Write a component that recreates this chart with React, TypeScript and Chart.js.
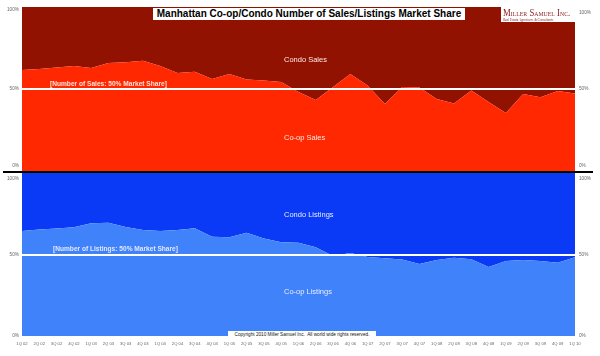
import React, { useEffect, useRef } from "react";
import { Chart, registerables } from "chart.js";

Chart.register(...registerables);

const FONT = '"Liberation Sans", Arial, sans-serif';

const quarters = [
  "1Q 02", "2Q 02", "3Q 02", "4Q 02",
  "1Q 03", "2Q 03", "3Q 03", "4Q 03",
  "1Q 04", "2Q 04", "3Q 04", "4Q 04",
  "1Q 05", "2Q 05", "3Q 05", "4Q 05",
  "1Q 06", "2Q 06", "3Q 06", "4Q 06",
  "1Q 07", "2Q 07", "3Q 07", "4Q 07",
  "1Q 08", "2Q 08", "3Q 08", "4Q 08",
  "1Q 09", "2Q 09", "3Q 09", "4Q 09",
  "1Q 10",
];

// Share of number of sales (%)
const coopSales = [
  61.6, 62.2, 63.1, 64.0, 62.8, 65.9, 66.3, 67.3, 64.0, 59.8, 60.5,
  56.1, 59.1, 55.8, 55.2, 54.3, 48.2, 43.3, 51.2, 59.1, 52.1, 40.9,
  51.2, 50.9, 43.9, 41.2, 49.1, 42.1, 35.4, 47.0, 44.9, 48.8, 47.3,
];
const condoSales = [
  38.4, 37.8, 36.9, 36.0, 37.2, 34.1, 33.7, 32.7, 36.0, 40.2, 39.5,
  43.9, 40.9, 44.2, 44.8, 45.7, 51.8, 56.7, 48.8, 40.9, 47.9, 59.1,
  48.8, 49.1, 56.1, 58.8, 50.9, 57.9, 64.6, 53.0, 55.1, 51.2, 52.7,
];

// Share of number of listings (%)
const coopListings = [
  64.4, 65.3, 66.0, 66.7, 69.1, 69.5, 66.9, 65.0, 64.4, 65.0, 66.1,
  60.9, 60.6, 63.4, 59.8, 57.5, 57.2, 54.4, 49.1, 50.9, 48.5, 47.7,
  47.0, 44.2, 46.6, 48.0, 47.1, 42.3, 46.0, 46.6, 46.0, 44.9, 48.3,
];
const condoListings = [
  35.6, 34.7, 34.0, 33.3, 30.9, 30.5, 33.1, 35.0, 35.6, 35.0, 33.9,
  39.1, 39.4, 36.6, 40.2, 42.5, 42.8, 45.6, 50.9, 49.1, 51.5, 52.3,
  53.0, 55.8, 53.4, 52.0, 52.9, 57.7, 54.0, 53.4, 54.0, 55.1, 51.7,
];

const yTicks = [0, 50, 100];

const textPlugin = {
  id: "areaText",
  afterDatasetsDraw(chart: any, _args: any, opts: any) {
    const { ctx, chartArea: a } = chart;
    ctx.save();
    for (const it of opts.items || []) {
      ctx.font = it.font;
      ctx.fillStyle = it.color;
      ctx.textAlign = "left";
      ctx.textBaseline = "middle";
      ctx.fillText(it.text, a.left + it.dx, a.top + it.dy);
    }
    ctx.restore();
  },
};

// Labels of the top / bottom ticks are nudged inward (as in the original) by blank lines.
function tickLabel(v: number, topBlank: number, bottomBlank: number) {
  const s = v + "%";
  if (v === 100 && topBlank > 0) return [...Array(topBlank).fill(""), s];
  if (v === 0 && bottomBlank > 0) return [s, ...Array(bottomBlank).fill("")];
  return s;
}

function pctAxis(position: string, width: number, pad: number, showGrid: boolean, topBlank: number, bottomBlank: number) {
  return {
    position,
    min: 0,
    max: 100,
    stacked: true,
    afterFit: (s: any) => {
      s.width = width;
      s.paddingTop = 0;
      s.paddingBottom = 0;
    },
    afterBuildTicks: (s: any) => {
      s.ticks = yTicks.map((v) => ({ value: v }));
    },
    ticks: {
      callback: (v: any) => tickLabel(v, topBlank, bottomBlank),
      font: { size: 4.7, family: FONT },
      color: "#666",
      padding: pad,
    },
    grid: showGrid
      ? {
          z: 1,
          color: (c: any) => (c.tick && c.tick.value === 50 ? "#ffffff" : "rgba(0,0,0,0)"),
          lineWidth: (c: any) => (c.tick && c.tick.value === 50 ? 2 : 1),
          drawTicks: false,
        }
      : { display: false, drawTicks: false },
    border: { display: false },
  };
}

function areaDataset(label: string, data: number[], color: string, fill: string) {
  return {
    label,
    data,
    backgroundColor: color,
    borderColor: color,
    borderWidth: 0,
    pointRadius: 0,
    pointHoverRadius: 0,
    tension: 0,
    fill,
  };
}

export default function App() {
  const topRef = useRef<HTMLCanvasElement>(null);
  const botRef = useRef<HTMLCanvasElement>(null);

  useEffect(() => {
    const top = new Chart(topRef.current as HTMLCanvasElement, {
      type: "line",
      data: {
        labels: quarters,
        datasets: [
          areaDataset("Co-op Sales", coopSales, "#ff2800", "origin"),
          areaDataset("Condo Sales", condoSales, "#911200", "-1"),
        ],
      },
      plugins: [textPlugin],
      options: {
        responsive: false,
        animation: false,
        devicePixelRatio: 1,
        layout: { padding: { top: 7, bottom: 1, left: 0, right: 0 } },
        scales: {
          x: { display: false, offset: false },
          y: pctAxis("left", 22, 3, true, 1, 2),
          y2: pctAxis("right", 25, 4, false, 2, 2),
        },
        plugins: {
          legend: { display: false },
          tooltip: { enabled: false },
          areaText: {
            items: [
              { text: "Condo Sales", dx: 262, dy: 53, font: `7.5px ${FONT}`, color: "#ffe9e4" },
              { text: "Co-op Sales", dx: 262, dy: 130.5, font: `7.5px ${FONT}`, color: "#ffe9e4" },
              { text: "[Number of Sales: 50% Market Share]", dx: 28, dy: 77, font: `bold 6.6px ${FONT}`, color: "#ffe2da" },
            ],
          },
        } as any,
      },
    } as any);

    const bot = new Chart(botRef.current as HTMLCanvasElement, {
      type: "line",
      data: {
        labels: quarters,
        datasets: [
          areaDataset("Co-op Listings", coopListings, "#4082fa", "origin"),
          areaDataset("Condo Listings", condoListings, "#0a3af5", "-1"),
        ],
      },
      plugins: [textPlugin],
      options: {
        responsive: false,
        animation: false,
        devicePixelRatio: 1,
        layout: { padding: { top: 13, bottom: 0, left: 0, right: 0 } },
        scales: {
          x: {
            type: "category",
            offset: false,
            afterFit: (s: any) => {
              s.height = 20;
            },
            grid: { display: false, drawTicks: false },
            border: { display: false },
            ticks: {
              autoSkip: false,
              maxRotation: 0,
              minRotation: 0,
              font: { size: 4.2, family: FONT },
              color: "#666",
              padding: 5,
            },
          },
          y: pctAxis("left", 22, 3, true, 2, 0),
          y2: pctAxis("right", 25, 4, false, 2, 0),
        },
        plugins: {
          legend: { display: false },
          tooltip: { enabled: false },
          areaText: {
            items: [
              { text: "Condo Listings", dx: 262, dy: 42, font: `7.5px ${FONT}`, color: "#e6ecff" },
              { text: "Co-op Listings", dx: 262, dy: 119, font: `7.5px ${FONT}`, color: "#e6ecff" },
              { text: "[Number of Listings: 50% Market Share]", dx: 31, dy: 76, font: `bold 6.6px ${FONT}`, color: "#e2e8ff" },
            ],
          },
        } as any,
      },
    } as any);

    return () => {
      top.destroy();
      bot.destroy();
    };
  }, []);

  return (
    <div
      style={{
        position: "fixed",
        left: 0,
        top: 0,
        width: 600,
        height: 356,
        background: "#fff",
        overflow: "hidden",
        fontFamily: FONT,
      }}
    >
      <canvas ref={topRef} width={600} height={172} style={{ position: "absolute", left: 0, top: 0 }} />
      <canvas ref={botRef} width={600} height={196} style={{ position: "absolute", left: 0, top: 160 }} />
      <div style={{ position: "absolute", left: 3, top: 171, width: 590, height: 2, background: "#000" }} />
      <div
        style={{
          position: "absolute",
          left: 153,
          top: 8,
          width: 312,
          height: 12,
          background: "#fff",
          color: "#000",
          fontWeight: "bold",
          fontSize: 10,
          lineHeight: "12px",
          textAlign: "center",
          whiteSpace: "nowrap",
        }}
      >
        Manhattan Co-op/Condo Number of Sales/Listings Market Share
      </div>
      <div style={{ position: "absolute", left: 501, top: 6, width: 74, height: 16, background: "#fff" }}>
        <div
          style={{
            position: "absolute",
            left: 2,
            top: 1.3,
            fontFamily: '"Liberation Serif", serif',
            fontVariant: "small-caps",
            fontSize: 10.5,
            lineHeight: "11px",
            color: "#8b1a1a",
            whiteSpace: "nowrap",
            transform: "scaleX(0.83)",
            transformOrigin: "left center",
          }}
        >
          Miller Samuel Inc.
        </div>
        <div
          style={{
            position: "absolute",
            left: 2,
            top: 11.5,
            fontFamily: '"Liberation Serif", serif',
            fontStyle: "italic",
            fontSize: 3.3,
            lineHeight: "4px",
            color: "#8b1a1a",
            whiteSpace: "nowrap",
          }}
        >
          Real Estate Appraisers &amp; Consultants
        </div>
      </div>
      <div
        style={{
          position: "absolute",
          left: 228,
          top: 330.5,
          width: 148,
          height: 7,
          background: "#fff",
          color: "#111",
          fontSize: 4.7,
          lineHeight: "7px",
          textAlign: "center",
          whiteSpace: "nowrap",
        }}
      >
        Copyright 2010 Miller Samuel Inc.&nbsp; All world wide rights reserved.
      </div>
    </div>
  );
}
